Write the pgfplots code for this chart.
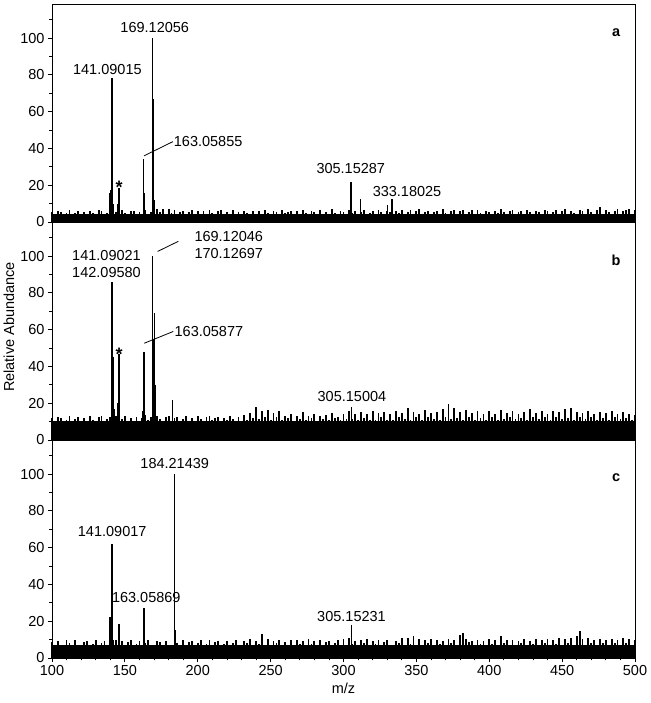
\documentclass[border=0pt]{standalone}
\usepackage{fontspec}
\setmainfont{Liberation Sans}
\usepackage{pgfplots}
\usepackage{pgfplotstable}
\pgfplotsset{compat=1.18}
\newcommand\fs{\fontsize{14.5}{17}\selectfont}
\newcommand\pkstar{\fontsize{18}{20}\selectfont\bfseries *}

\pgfplotstableread{
x a b c
100 5.2 11.8 8.9
102 4.1 9.6 6.5
104 6.0 12.6 9.4
106 5.7 12.1 7.2
108 4.3 9.9 6.4
110 4.8 10.8 9.6
112 6.4 13.0 8.1
114 4.0 10.2 6.6
116 5.1 11.4 9.9
118 6.2 12.7 7.0
120 4.4 9.8 6.3
122 5.5 12.2 8.6
124 4.2 10.4 9.5
126 6.1 13.1 6.7
128 5.0 11.0 7.8
130 4.3 9.7 9.8
132 6.6 12.4 6.5
134 5.8 12.9 8.4
136 4.1 10.1 9.2
138 4.9 11.6 6.8
140 6.0 12.3 8.0
142 4.2 10.0 6.4
144 5.6 12.8 9.6
146 4.4 10.6 7.1
148 6.3 11.5 9.0
150 5.1 13.2 6.6
152 4.0 10.3 8.7
154 5.9 11.9 9.7
156 6.2 10.1 6.9
158 4.3 12.5 7.6
160 5.3 9.8 9.3
162 4.1 12.0 6.5
164 6.5 13.5 8.2
166 4.6 10.7 9.8
168 5.7 12.3 7.0
170 4.2 10.2 6.4
172 7.1 12.9 9.1
174 5.4 11.6 8.5
176 7.3 10.0 6.7
178 4.5 12.6 9.4
180 6.9 13.0 7.3
182 4.8 10.4 6.6
184 6.3 11.7 9.0
186 4.1 12.4 8.3
188 5.6 9.9 6.5
190 6.0 11.2 9.7
192 4.3 13.1 7.1
194 5.2 10.5 8.8
196 6.4 12.2 9.3
198 4.2 10.0 6.6
200 5.8 12.9 8.1
202 4.6 11.3 9.6
204 6.1 10.2 6.8
206 4.0 12.6 7.5
208 6.6 13.2 9.9
210 5.1 10.6 6.4
212 4.3 11.9 8.6
214 5.9 12.5 9.2
216 6.3 10.1 6.9
218 4.2 12.0 7.7
220 5.4 10.7 9.4
222 4.5 13.0 6.6
224 6.5 11.4 8.3
226 4.1 10.3 9.8
228 5.7 12.6 7.0
230 4.4 10.0 6.5
232 6.2 13.4 9.2
234 5.0 11.1 8.0
236 4.3 14.6 10.1
238 6.0 11.8 6.8
240 4.6 17.8 9.5
242 5.8 11.2 7.4
244 4.2 15.9 13.0
246 6.4 12.6 7.1
248 5.1 16.2 10.4
250 4.0 11.0 6.7
252 6.1 14.8 9.1
254 5.5 12.3 8.3
256 4.3 15.5 9.9
258 6.3 10.6 6.6
260 4.7 13.1 8.9
262 5.2 11.8 7.2
264 6.0 14.2 9.6
266 4.1 10.5 6.5
268 5.8 12.9 10.0
270 4.4 11.4 7.4
272 6.6 15.4 9.0
274 5.0 10.6 6.8
276 4.2 13.3 10.3
278 6.1 12.0 7.6
280 5.3 14.0 9.2
282 4.0 10.5 6.6
284 6.4 12.8 9.7
286 4.6 11.6 7.0
288 5.7 13.6 8.5
290 4.3 10.8 9.4
292 6.8 14.9 6.9
294 5.1 12.2 8.0
296 4.2 12.6 9.6
298 6.0 10.9 7.2
300 5.4 14.4 10.5
302 4.4 11.5 6.8
304 6.7 15.8 10.9
306 4.8 11.3 7.5
308 6.2 13.9 9.1
310 4.1 10.7 6.6
312 5.6 15.1 9.8
314 6.3 12.0 8.2
316 4.3 14.3 10.2
318 5.0 10.6 6.7
320 6.1 16.0 9.3
322 4.2 11.1 7.4
324 6.5 14.6 10.0
326 5.2 12.4 6.8
328 4.4 15.3 8.9
330 6.2 11.0 9.9
332 5.6 14.0 7.1
334 4.1 10.6 6.6
336 6.0 15.6 9.4
338 4.7 12.3 8.1
340 6.4 14.8 10.6
342 4.3 11.4 7.0
344 5.5 17.5 10.9
346 6.7 11.0 7.8
348 4.5 15.2 12.0
350 5.9 12.5 7.2
352 6.8 14.1 10.3
354 4.2 11.1 6.8
356 5.3 16.4 9.6
358 6.1 12.7 8.4
360 4.4 14.5 10.1
362 5.7 11.3 6.9
364 6.2 15.0 9.7
366 4.1 10.7 7.6
368 6.9 16.8 9.2
370 5.0 12.4 7.0
372 4.3 19.6 10.4
374 6.0 11.2 8.2
376 6.4 17.2 9.8
378 4.6 12.0 7.3
380 5.8 15.4 12.5
382 6.7 10.8 13.7
384 4.2 16.1 10.2
386 5.4 12.6 8.6
388 6.3 14.7 9.5
390 4.0 10.6 6.7
392 6.6 15.8 10.0
394 5.1 12.1 7.8
396 4.4 14.2 9.2
398 6.2 10.7 6.8
400 5.6 15.5 10.1
402 4.2 12.3 7.5
404 6.1 14.0 9.6
406 4.8 10.9 6.9
408 6.8 16.3 12.1
410 5.2 11.6 8.0
412 4.3 14.6 9.7
414 6.0 12.5 7.2
416 6.4 15.9 10.0
418 4.5 11.3 6.9
420 5.5 14.3 9.3
422 6.2 12.1 8.4
424 4.1 15.2 10.3
426 6.6 11.0 7.0
428 5.3 16.6 9.5
430 4.4 12.4 7.7
432 6.0 14.8 10.2
434 5.7 11.2 7.1
436 4.3 15.7 9.8
438 6.7 12.6 8.1
440 6.2 14.4 10.4
442 4.6 11.0 7.0
444 5.4 16.0 9.7
446 6.3 12.5 7.6
448 4.2 15.1 10.6
450 5.9 11.3 7.2
452 6.9 16.9 10.1
454 4.5 12.2 8.2
456 6.1 17.6 11.0
458 5.0 11.1 6.9
460 4.3 15.3 11.7
462 6.6 12.6 14.8
464 6.2 14.9 10.4
466 4.4 11.2 7.1
468 6.8 15.8 10.7
470 5.2 12.4 8.0
472 4.2 14.2 10.0
474 6.4 11.0 7.3
476 8.0 15.4 10.5
478 4.6 12.2 7.9
480 6.6 14.6 9.8
482 5.3 11.1 6.8
484 4.3 15.6 10.3
486 6.2 12.3 8.2
488 6.9 14.3 9.6
490 4.5 11.2 7.2
492 5.8 15.0 10.8
494 6.3 12.0 8.4
496 7.3 14.1 10.1
498 4.4 11.0 7.1
500 6.4 13.8 9.7
}\noise

\pgfplotstableread{
x y
139.6 16
140.0 17.5
140.4 15
141.1 78
141.5 13
142.2 10
145.2 10
146.0 18.6
163.0 34
163.6 16
169.1 100
169.6 67
170.3 12
305.2 22
311.5 12.5
330.2 9
333.2 12.5
}\peaksa

\pgfplotstableread{
x y
141.1 86
141.5 18
142.1 45
142.6 17
143.2 12
145.3 20
146.0 46.5
162.2 16
163.1 48
163.7 23
169.1 100
169.6 55
170.1 69
170.6 30
182.6 22
305.6 18
}\peaksb

\pgfplotstableread{
x y
139.8 22.5
140.3 20
141.1 62
141.6 14
142.2 10
146.0 18.5
163.1 27
163.6 12
184.2 100
184.7 15
305.4 18
}\peaksc

\pgfplotsset{panel/.style={
  scale only axis, width=583pt, height=218pt,
  xmin=100, xmax=500, ymin=0, ymax=118.5,
  axis line style={line width=0.8pt},
  ytick={0,20,40,60,80,100}, minor ytick={10,30,50,70,90,110},
  ytick pos=left, xtick pos=bottom, tick align=outside,
  major tick length=4pt, minor tick length=2.5pt,
  tick style={black, line width=0.8pt},
  ticklabel style={font=\fs},
  /pgf/number format/assume math mode=true,
  clip=false, anchor=south west},
  noisecomb/.style={ycomb, black, line width=1.8pt, mark=none},
  floor/.style={fill=black, draw=none}}

\begin{document}
\begin{tikzpicture}
% panel a
\begin{axis}[panel, at={(0pt,436pt)}, xtick=\empty]
\addplot[floor] coordinates {(100,4.3) (500,4.3)} \closedcycle;
\addplot[noisecomb] table[x=x, y=a] {\noise};
\addplot[ycomb, black, line width=1.3pt, mark=none] table {\peaksa};
\node[font=\fs, inner sep=0pt] at (axis cs:170.5,105.5) {169.12056};
\node[font=\fs, inner sep=0pt] at (axis cs:138,83) {141.09015};
\draw[line width=0.8pt] (axis cs:163.2,36) -- (axis cs:183,43.7);
\node[font=\fs, inner sep=0pt, anchor=west] at (axis cs:183.5,43.7) {163.05855};
\node[font=\fs, inner sep=0pt] at (axis cs:305,29) {305.15287};
\node[font=\fs, inner sep=0pt] at (axis cs:343.6,16.4) {333.18025};
\node[inner sep=0pt, anchor=base] at (axis cs:146,15.5) {\pkstar};
\node[font=\fs\bfseries, inner sep=0pt, anchor=base] at (axis cs:487,101) {a};
\end{axis}
% panel b
\begin{axis}[panel, at={(0pt,218pt)}, xtick=\empty]
\addplot[floor] coordinates {(100,10.5) (500,10.5)} \closedcycle;
\addplot[noisecomb] table[x=x, y=b] {\noise};
\addplot[ycomb, black, line width=1.3pt, mark=none] table {\peaksb};
\node[font=\fs, inner sep=0pt] at (axis cs:137.4,100.5) {141.09021};
\node[font=\fs, inner sep=0pt] at (axis cs:137.4,90.8) {142.09580};
\draw[line width=0.8pt] (axis cs:172.5,102.5) -- (axis cs:186.7,108);
\node[font=\fs, inner sep=0pt] at (axis cs:221.3,110.8) {169.12046};
\node[font=\fs, inner sep=0pt] at (axis cs:221.3,101.2) {170.12697};
\draw[line width=0.8pt] (axis cs:163.3,52.6) -- (axis cs:183.2,59);
\node[font=\fs, inner sep=0pt, anchor=west] at (axis cs:184,59) {163.05877};
\node[font=\fs, inner sep=0pt] at (axis cs:305.8,23.8) {305.15004};
\node[inner sep=0pt, anchor=base] at (axis cs:146,43.3) {\pkstar};
\node[font=\fs\bfseries, inner sep=0pt, anchor=base] at (axis cs:487,95) {b};
\end{axis}
% panel c
\begin{axis}[panel, at={(0pt,0pt)},
  xtick={100,150,...,500}, minor xtick={100,110,...,500}]
\addplot[floor] coordinates {(100,7.3) (500,7.3)} \closedcycle;
\addplot[noisecomb] table[x=x, y=c] {\noise};
\addplot[ycomb, black, line width=1.3pt, mark=none] table {\peaksc};
\node[font=\fs, inner sep=0pt] at (axis cs:184.2,105.8) {184.21439};
\node[font=\fs, inner sep=0pt] at (axis cs:141.3,69) {141.09017};
\node[font=\fs, inner sep=0pt] at (axis cs:164.7,33) {163.05869};
\node[font=\fs, inner sep=0pt] at (axis cs:305.5,22.5) {305.15231};
\node[font=\fs\bfseries, inner sep=0pt, anchor=base] at (axis cs:487,96) {c};
\end{axis}
\node[rotate=90, font=\fs, inner sep=0pt] at (-43pt,331pt) {Relative Abundance};
\node[font=\fs, inner sep=0pt] at (291.5pt,-30pt) {m/z};
\pgfresetboundingbox
\path[use as bounding box] (-52pt,-45pt) rectangle (598pt,658pt);
\end{tikzpicture}
\end{document}
